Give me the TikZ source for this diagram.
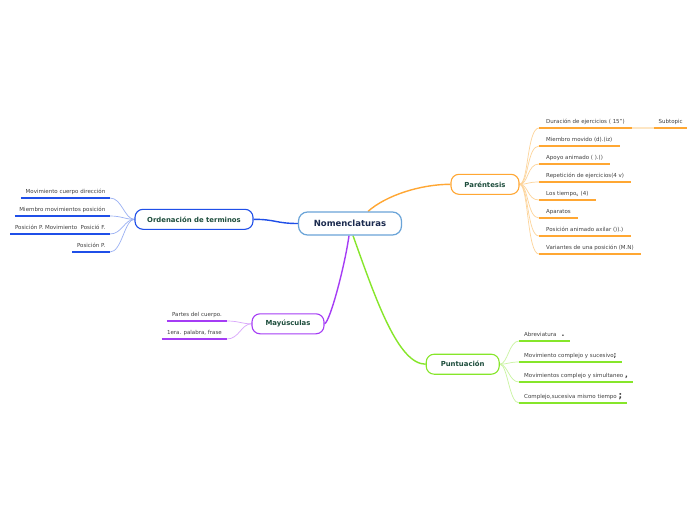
\documentclass[tikz,border=0pt]{standalone}
\usepackage{fontspec}
\setmainfont{DejaVu Sans}
\usetikzlibrary{calc,backgrounds}
\definecolor{cCentral}{HTML}{6AA4D8}
\definecolor{cCentralText}{HTML}{1B2A4E}
\definecolor{cBranchText}{HTML}{1D4D3C}
\definecolor{cLeafText}{HTML}{404040}
\definecolor{cBlue}{HTML}{1F4FE8}
\definecolor{cBlueL}{HTML}{9AB0F3}
\definecolor{cOrange}{HTML}{FFA733}
\definecolor{cOrangeL}{HTML}{FDD49A}
\definecolor{cOrangeXL}{HTML}{FDE6C4}
\definecolor{cPurple}{HTML}{A53CF5}
\definecolor{cPurpleL}{HTML}{D9A7FB}
\definecolor{cGreen}{HTML}{86E62A}
\definecolor{cGreenL}{HTML}{C9F4A0}
\begin{document}
\begin{tikzpicture}[x=1pt,y=-1pt,
  central/.style={draw=cCentral, line width=1.2pt, rounded corners=9pt, fill=white,
    minimum width=103pt, minimum height=23pt, inner sep=0pt,
    font=\fontsize{8.5}{9}\selectfont\bfseries, text=cCentralText},
  branch/.style={draw=#1, line width=1.1pt, rounded corners=8pt, fill=white,
    minimum height=20pt, inner sep=0pt,
    font=\fontsize{6.9}{8}\selectfont\bfseries, text=cBranchText},
  leaf/.style={inner xsep=5pt, inner ysep=3pt, text height=4pt, text depth=1.2pt,
    font=\fontsize{5.5}{6}\selectfont, text=cLeafText},
  ul/.style={line width=2pt, draw=#1},
  lc/.style={line width=0.7pt, draw=#1},
  mc/.style={line width=1.4pt, draw=#1}
]
\useasboundingbox (0,0) rectangle (696,520);

% main nodes
\node[central] (c) at (350,223.5) {Nomenclaturas};
\node[branch=cBlue, minimum width=118pt] (ord) at (194,219.3) {Ordenación de terminos};
\node[branch=cOrange, minimum width=68pt] (par) at (485,184.3) {Paréntesis};
\node[branch=cPurple, minimum width=72pt] (may) at (288,323.8) {Mayúsculas};
\node[branch=cGreen, minimum width=73pt] (pun) at (462.7,364.2) {Puntuación};

% Paréntesis leaves
\node[leaf, inner xsep=7pt, anchor=south west] (p1) at (539,128) {Duración de ejercicios ( 15")};
\node[leaf, inner xsep=7pt, anchor=south west] (p2) at (539,146) {Miembro movido (d).(iz)};
\node[leaf, inner xsep=7pt, anchor=south west] (p3) at (539,164) {Apoyo animado ( ).()};
\node[leaf, inner xsep=7pt, anchor=south west] (p4) at (539,182) {Repetición de ejercicios(4 v)};
\node[leaf, inner xsep=7pt, anchor=south west] (p5) at (539,200) {Los tiempo\textsubscript{s} (4)};
\node[leaf, inner xsep=7pt, anchor=south west] (p6) at (539,218) {Aparatos};
\node[leaf, inner xsep=7pt, anchor=south west] (p7) at (539,236) {Posición animado axilar ()).)};
\node[leaf, inner xsep=7pt, anchor=south west] (p8) at (539,254) {Variantes de una posición (M.N)};
\node[leaf, inner xsep=4.5pt, anchor=south west] (sub) at (654,128) {Subtopic};

% Ordenación leaves
\node[leaf, inner xsep=4.5pt, anchor=south east] (l1) at (110,198) {Movimiento cuerpo dirección};
\node[leaf, inner xsep=4.5pt, anchor=south east] (l2) at (110,216) {Miembro movimientos posición};
\node[leaf, inner xsep=4.5pt, anchor=south east] (l3) at (110,234) {Posición P. Movimiento\ \ Posició F.};
\node[leaf, inner xsep=4.5pt, anchor=south east] (l4) at (110,252) {Posición P.};

% Mayúsculas leaves
\node[leaf, anchor=south east] (m1) at (227,321) {Partes del cuerpo.};
\node[leaf, anchor=south east] (m2) at (227,339) {1era. palabra, frase};

% Puntuación leaves
\node[leaf, anchor=south west] (u1) at (519,341) {Abreviatura\ \ \ {\fontsize{7.5}{7}\selectfont\bfseries .}};
\node[leaf, anchor=south west] (u2) at (519,362) {Movimiento complejo y sucesivo{\fontsize{7}{7}\selectfont\bfseries ;}};
\node[leaf, anchor=south west] (u3) at (519,382) {Movimientos complejo y simultaneo {\fontsize{7.5}{7}\selectfont\bfseries ,}};
\node[leaf, anchor=south west] (u4) at (519,403) {Complejo,sucesiva mismo tiempo {\fontsize{9}{7}\selectfont\bfseries ;}};

% underlines
\foreach \n in {p1,p2,p3,p4,p5,p6,p7,p8,sub} \draw[ul=cOrange] (\n.south west) -- (\n.south east);
\foreach \n in {l1,l2,l3,l4} \draw[ul=cBlue] (\n.south west) -- (\n.south east);
\foreach \n in {m1,m2} \draw[ul=cPurple] (\n.south west) -- (\n.south east);
\foreach \n in {u1,u2,u3,u4} \draw[ul=cGreen] (\n.south west) -- (\n.south east);

\begin{scope}[on background layer]
\fill[white] (0,0) rectangle (696,520);
% main connectors
\draw[mc=cBlue] (ord.east) .. controls +(22,0) and +(-22,0) .. (c.west);
\draw[mc=cOrange] ($(c.north)+(18,0)$) .. controls +(18,-16) and +(-30,0) .. (par.west);
\draw[mc=cPurple] ($(c.south)+(-1,0)$) .. controls (345,265) and (330,322) .. (may.east);
\draw[mc=cGreen] ($(c.south)+(3,0)$) .. controls (376,300) and (398,364) .. (pun.west);
% leaf connectors
\foreach \n in {p1,p2,p3,p4,p5,p6,p7,p8}
  \draw[lc=cOrangeL] (par.east) .. controls +(9,0) and +(-12,0) .. (\n.south west);
\draw[lc=cOrangeXL, line width=1.2pt] (p1.south east) -- (sub.south west);
\foreach \n in {l1,l2,l3,l4}
  \draw[lc=cBlueL] (ord.west) .. controls +(-10,0) and +(12,0) .. (\n.south east);
\foreach \n in {m1,m2}
  \draw[lc=cPurpleL] (may.west) .. controls +(-10,0) and +(12,0) .. (\n.south east);
\foreach \n in {u1,u2,u3,u4}
  \draw[lc=cGreenL] (pun.east) .. controls +(8,0) and +(-10,0) .. (\n.south west);
\end{scope}
\end{tikzpicture}
\end{document}
